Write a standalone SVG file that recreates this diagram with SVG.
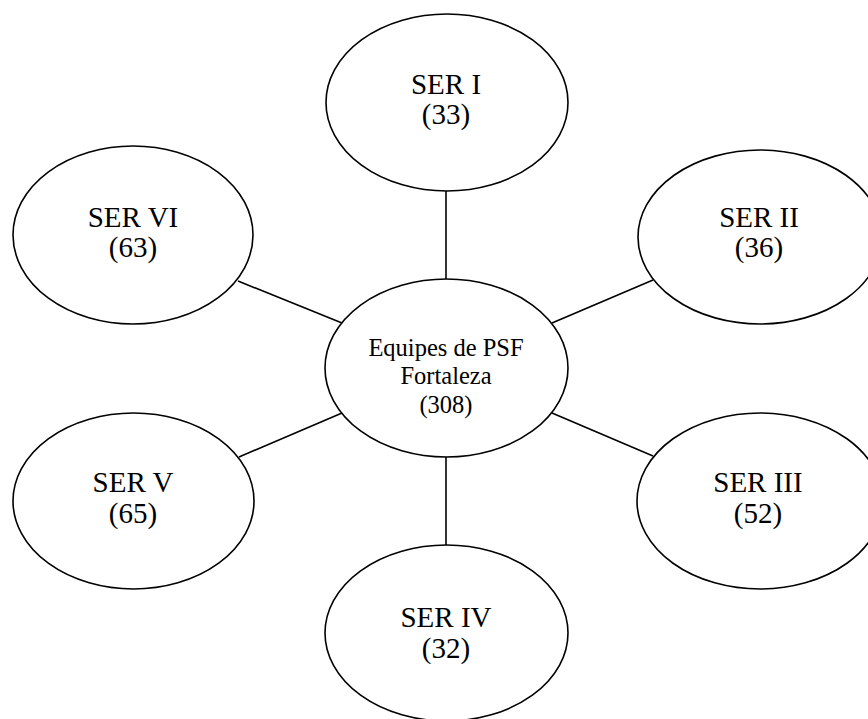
<svg xmlns="http://www.w3.org/2000/svg" width="868" height="719" viewBox="0 0 868 719">
<style>
.node ellipse{fill:#fff;stroke:#000;stroke-width:1.6}
.conn line{stroke:#000;stroke-width:1.6}
text{font-family:"Liberation Serif","Times New Roman",serif;fill:#000;text-anchor:middle}
.lbl{font-size:29px}
.clbl{font-size:24.5px}
</style>
<rect width="868" height="719" fill="#fff"/>
<g id="connectors" class="conn">
<line x1="446" y1="190" x2="446" y2="280"/>
<line x1="446" y1="456" x2="446" y2="546"/>
<line x1="238" y1="281" x2="342" y2="323"/>
<line x1="552" y1="323" x2="653" y2="280"/>
<line x1="239" y1="457" x2="342" y2="413"/>
<line x1="552" y1="413" x2="653" y2="456"/>
</g>
<g id="center" class="node">
<ellipse cx="446.5" cy="368" rx="121.5" ry="89"/>
<text class="clbl" x="446" y="356">Equipes de PSF</text>
<text class="clbl" x="446" y="384">Fortaleza</text>
<text class="clbl" x="446" y="413">(308)</text>
</g>
<g id="ser1" class="node">
<ellipse cx="447" cy="102.5" rx="121" ry="88.5"/>
<text class="lbl" x="446" y="94">SER I</text>
<text class="lbl" x="446" y="124">(33)</text>
</g>
<g id="ser2" class="node">
<ellipse cx="760" cy="237" rx="122" ry="87"/>
<text class="lbl" x="759" y="227">SER II</text>
<text class="lbl" x="759" y="257">(36)</text>
</g>
<g id="ser3" class="node">
<ellipse cx="760" cy="501" rx="123" ry="88"/>
<text class="lbl" x="758" y="492">SER III</text>
<text class="lbl" x="758" y="523">(52)</text>
</g>
<g id="ser4" class="node">
<ellipse cx="446.5" cy="633" rx="121.5" ry="88"/>
<text class="lbl" x="446" y="627">SER IV</text>
<text class="lbl" x="446" y="658">(32)</text>
</g>
<g id="ser5" class="node">
<ellipse cx="133.5" cy="501" rx="120.5" ry="88"/>
<text class="lbl" x="133" y="492">SER V</text>
<text class="lbl" x="133" y="523">(65)</text>
</g>
<g id="ser6" class="node">
<ellipse cx="133" cy="235" rx="120" ry="89"/>
<text class="lbl" x="133" y="227">SER VI</text>
<text class="lbl" x="133" y="257">(63)</text>
</g>
</svg>
